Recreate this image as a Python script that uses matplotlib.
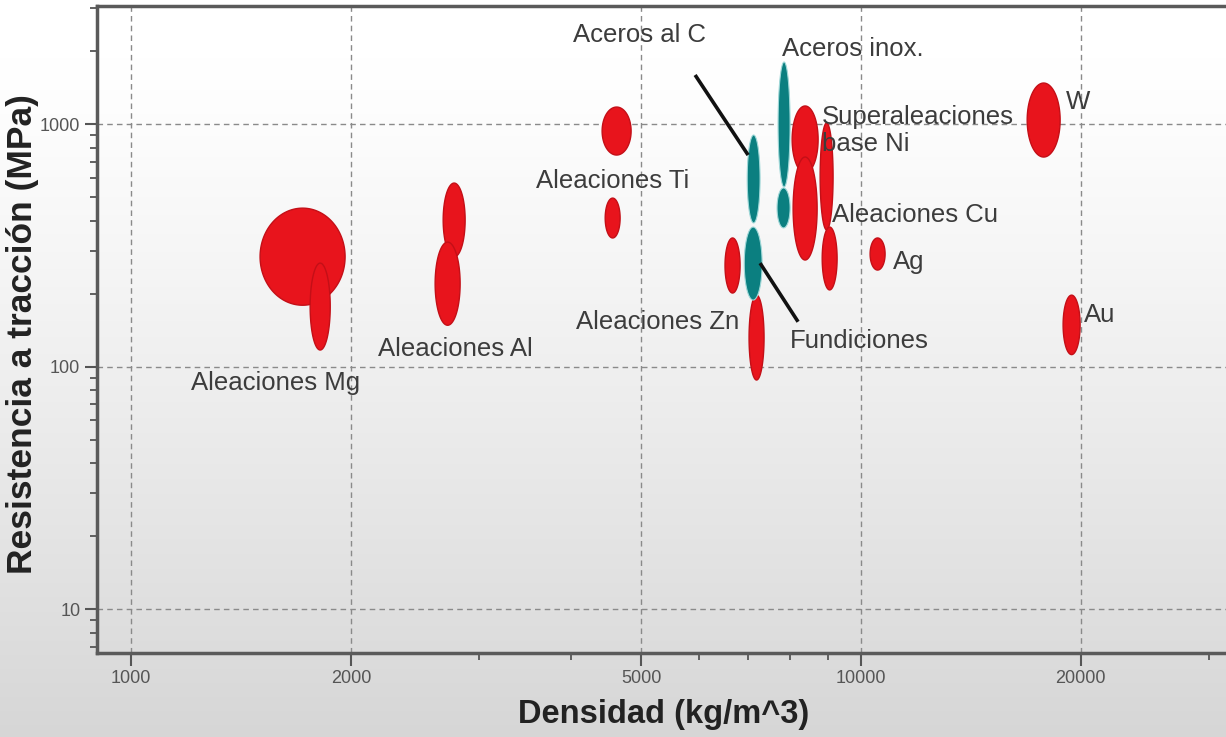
import numpy as np
import matplotlib
matplotlib.use("Agg")
import matplotlib.pyplot as plt
from matplotlib.ticker import FixedLocator, FixedFormatter, NullFormatter

plt.rcParams['font.family'] = ['Liberation Sans', 'DejaVu Sans']

# ---------------- data (density kg/m^3, tensile strength MPa ranges) ----------------
red_names = ["Mg (1)", "Mg (2)", "Al (1)", "Al (2)", "Ti (1)", "Ti (2)", "Zn",
             "Fundición", "Superaleaciones Ni", "Cu (1)", "Cu (2)", "Cu (3)",
             "Ag", "W", "Au"]
red_dens_lo = [1502, 1759, 2676, 2609, 4418, 4461, 6510, 7023, 8045, 8070, 8788, 8845, 10288, 16885, 18911]
red_dens_hi = [1964, 1874, 2868, 2823, 4841, 4676, 6827, 7363, 8732, 8705, 9154, 9271, 10786, 18735, 19953]
red_str_lo = [179, 117, 283, 148, 745, 339, 201, 88, 628, 275, 366, 207, 250, 731, 112]
red_str_hi = [450, 267, 571, 326, 1175, 495, 339, 197, 1187, 731, 1010, 376, 339, 1476, 197]

teal_names = ["Aceros al C", "Fundiciones", "Aceros inox. (1)", "Aceros inox. (2)"]
teal_dens_lo = [6982, 6917, 7696, 7671]
teal_dens_hi = [7271, 7318, 7993, 7993]
teal_str_lo = [391, 188, 550, 373]
teal_str_hi = [901, 376, 1802, 545]

label_texts = ["Aceros al C", "Aceros inox.", "Superaleaciones\nbase Ni", "Aleaciones Ti",
               "Aleaciones Cu", "Ag", "W", "Au", "Aleaciones Zn", "Fundiciones",
               "Aleaciones Al", "Aleaciones Mg"]
label_x = [4032, 7794, 8845, 3588, 9127, 11060, 19092, 20213, 4070, 7993, 2179, 1208]
label_y = [2328, 2039, 940, 582, 421, 270, 1232, 163, 153, 127, 118, 85.5]

leader_x = [[5924, 7002], [7271, 8197]]
leader_y = [[1593, 745], [267, 153]]

x_major = [1000, 2000, 5000, 10000, 20000]
x_major_labels = ["1000", "2000", "5000", "10000", "20000"]
x_minor = [3000, 4000, 6000, 7000, 8000, 9000, 30000]
y_major = [10, 100, 1000]
y_major_labels = ["10", "100", "1000"]

RED = "#e8141c"
RED_EDGE = "#c40f17"
TEAL = "#0b7f80"
TEAL_EDGE = "#9fd8d8"

# ---------------- figure ----------------
W, H = 1226, 737
fig = plt.figure(figsize=(W / 100, H / 100), dpi=100)

# background gradient
bg = fig.add_axes([0, 0, 1, 1], zorder=-5)
t = np.linspace(0, 1, 400)[:, None]
v = 1.0 - 0.16 * np.clip((t - 0.08) / 0.92, 0, 1) ** 1.2
img = np.dstack([v, v, v]) * np.ones((1, 10, 1))
bg.imshow(img, aspect='auto', extent=[0, 1, 0, 1])
bg.set_axis_off()

ax_left, ax_right, ax_top, ax_bot = 97, 1240, 6, 653
ax = fig.add_axes([ax_left / W, 1 - ax_bot / H, (ax_right - ax_left) / W, (ax_bot - ax_top) / H])
ax.set_facecolor('none')
ax.set_xscale('log')
ax.set_yscale('log')
ax.set_xlim(898, 33040)
ax.set_ylim(6.59, 3067)


def draw_bubble(xlo, xhi, ylo, yhi, fc, ec, lw, z):
    cx = (np.log10(xlo) + np.log10(xhi)) / 2
    cy = (np.log10(ylo) + np.log10(yhi)) / 2
    rx = (np.log10(xhi) - np.log10(xlo)) / 2
    ry = (np.log10(yhi) - np.log10(ylo)) / 2
    th = np.linspace(0, 2 * np.pi, 200)
    ax.fill(10 ** (cx + rx * np.cos(th)), 10 ** (cy + ry * np.sin(th)),
            facecolor=fc, edgecolor=ec, linewidth=lw, zorder=z)


for i in range(len(red_names)):
    draw_bubble(red_dens_lo[i], red_dens_hi[i], red_str_lo[i], red_str_hi[i], RED, RED_EDGE, 1.0, 3)
for i in range(len(teal_names)):
    draw_bubble(teal_dens_lo[i], teal_dens_hi[i], teal_str_lo[i], teal_str_hi[i], TEAL, TEAL_EDGE, 0.8, 4)

for lx, ly in zip(leader_x, leader_y):
    ax.plot(lx, ly, color='#111111', lw=2.6, solid_capstyle='butt', zorder=5)

for txt, lx, ly in zip(label_texts, label_x, label_y):
    ax.text(lx, ly, txt, ha='left', va='center', fontsize=18.5, color='#3c3c3c',
            linespacing=1.15, zorder=6)

# ticks
ax.xaxis.set_major_locator(FixedLocator(x_major))
ax.xaxis.set_major_formatter(FixedFormatter(x_major_labels))
ax.xaxis.set_minor_locator(FixedLocator(x_minor))
ax.xaxis.set_minor_formatter(NullFormatter())
ax.yaxis.set_major_locator(FixedLocator(y_major))
ax.yaxis.set_major_formatter(FixedFormatter(y_major_labels))
ax.yaxis.set_minor_locator(FixedLocator([m * d for d in (1, 10, 100, 1000) for m in range(2, 10)]))
ax.yaxis.set_minor_formatter(NullFormatter())

ax.tick_params(which='major', direction='out', length=9, width=1.5, color='#555555',
               labelsize=13, labelcolor='#555555', pad=3)
ax.tick_params(which='minor', direction='out', length=5, width=1.3, color='#555555')

ax.grid(True, which='major', linestyle=(0, (4, 3)), color='#8a8a8a', linewidth=1.0)
ax.set_axisbelow(True)

for side in ['top', 'bottom', 'left', 'right']:
    ax.spines[side].set_color('#5a5a5a')
    ax.spines[side].set_linewidth(2.5)

fig.text(664 / W, 1 - 714 / H, "Densidad (kg/m^3)", ha='center', va='center',
         fontsize=23.5, fontweight='bold', color='#222222')
fig.text(23 / W, 1 - 334 / H, "Resistencia a tracción (MPa)", ha='center', va='center',
         rotation=90, fontsize=25.5, fontweight='bold', color='#222222')

fig.savefig("out.png", dpi=100)
